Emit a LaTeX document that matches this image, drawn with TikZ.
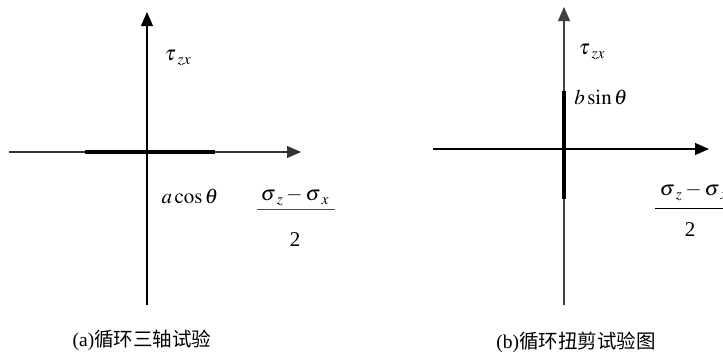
\documentclass[tikz,border=0pt]{standalone}
\usepackage{mathptmx}
\usepackage{fontspec}
\setmainfont{Liberation Serif}
\newfontfamily\cjk{Noto Sans CJK SC}
\usetikzlibrary{arrows.meta}

\tikzset{
  axis/.style={->,line width=1.1pt},
  load/.style={line width=4.5pt},
  lbl/.style={font=\fontsize{21}{24}\selectfont},
  captext/.style={font=\fontsize{19.5}{22}\selectfont}
}

\begin{document}
\begin{tikzpicture}[x=1pt,y=-1pt,>={Triangle[length=14pt,width=12pt]}]
  \useasboundingbox (0,0) rectangle (723,356);
  \clip (0,0) rectangle (723,356);

  % (a) cyclic triaxial
  \coordinate (aW) at (9,152);
  \coordinate (aE) at (301,152);
  \coordinate (aS) at (147,305);
  \coordinate (aN) at (147,12);
  \coordinate (aL) at (85,152);
  \coordinate (aR) at (215,152);
  \draw[axis] (aS) -- (aN);
  \draw[axis,black!80] (aW) -- (aE);
  \draw[load] (aL) -- (aR);
  \node[lbl] (tauA) at (178,58) {$\tau_{\;zx}$};
  \node[lbl] (cosA) at (190,196) {$a\cos\theta$};
  \node[lbl] (numA) at (295,197) {$\sigma_{\;z}-\sigma_{\;x}$};
  \coordinate (barAl) at (257,209);
  \coordinate (barAr) at (335,209);
  \draw[black!70] (barAl) -- (barAr);
  \node[lbl] (denA) at (295,240) {2};
  \node[captext] (capA) at (142,340) {(a){\cjk 循环三轴试验}};

  % (b) cyclic torsional shear
  \coordinate (bW) at (433,149);
  \coordinate (bE) at (709,149);
  \coordinate (bS) at (564,305);
  \coordinate (bN) at (564,7);
  \coordinate (bT) at (564,91);
  \coordinate (bB) at (564,199);
  \draw[axis,black!75] (bS) -- (bN);
  \draw[axis] (bW) -- (bE);
  \draw[load] (bT) -- (bB);
  \node[lbl] (tauB) at (592,52) {$\tau_{\;zx}$};
  \node[lbl] (sinB) at (601,97) {$b\sin\theta$};
  \node[lbl] (numB) at (694,192) {$\sigma_{\;z}-\sigma_{\;x}$};
  \coordinate (barBl) at (655,208);
  \coordinate (barBr) at (733,208);
  \draw (barBl) -- (barBr);
  \node[lbl] (denB) at (690,230) {2};
  \node[captext] (capB) at (576,342) {(b){\cjk 循环扭剪试验图}};
\end{tikzpicture}
\end{document}
